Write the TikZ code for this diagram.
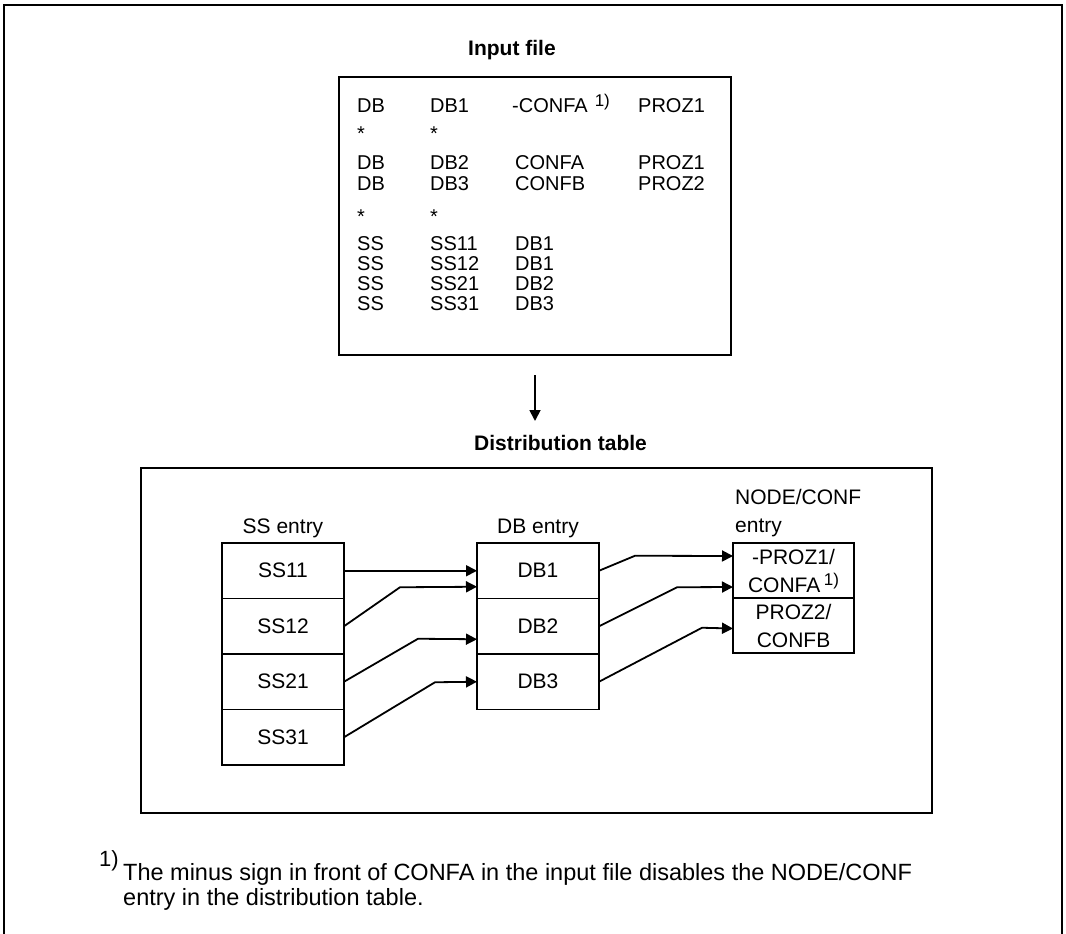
\documentclass[tikz,border=0pt]{standalone}
\usepackage{fontspec}
\setmainfont{Liberation Sans}
\usetikzlibrary{arrows.meta, positioning}
\tikzset{
  frame/.style={draw, line width=1.8pt, inner sep=0pt, outer sep=0pt},
  cell/.style={draw, line width=1.8pt, minimum width=122pt, minimum height=55.5pt,
               inner sep=0pt, outer sep=0pt, align=center, font=\fontsize{21}{28}\selectfont},
  title/.style={anchor=base west, inner sep=0pt, font=\fontsize{21}{24}\selectfont\bfseries},
  txt/.style={anchor=base west, inner sep=0pt, font=\fontsize{20}{20}\selectfont},
  lbl/.style={anchor=base, inner sep=0pt, font=\fontsize{21}{28}\selectfont},
  arr/.style={-{Triangle[length=11pt, width=11pt]}, line width=1.8pt},
}
\newcommand{\inrow}[4]{\makebox[73pt][l]{#1}\makebox[85pt][l]{#2}\makebox[123pt][l]{#3}#4}
\newcommand{\fnmark}{\raisebox{6.5pt}{\fontsize{17}{17}\selectfont 1)}}

\begin{document}
\begin{tikzpicture}[x=1pt, y=-1pt]
  \useasboundingbox (0,0) rectangle (1066,934);
  % page frame, open at the bottom
  \draw[line width=1.8pt] (4,934) -- (4,5) -- (1062,5) -- (1062,934);

  % input file
  \node[title] (intitle) at (468,56) {Input file};
  \node[frame, minimum width=392pt, minimum height=278pt] (inbox) at (535,216) {};
  \node[txt] (r1) at (357,113) {\inrow{DB}{DB1}{\hspace{-3pt}-CONFA\hspace{7pt}\fnmark}{PROZ1}};
  \node[txt] (r2) at (357,140) {\inrow{*}{*}{}{}};
  \node[txt] (r3) at (357,169) {\inrow{DB}{DB2}{CONFA}{PROZ1}};
  \node[txt] (r4) at (357,190) {\inrow{DB}{DB3}{CONFB}{PROZ2}};
  \node[txt] (r5) at (357,223) {\inrow{*}{*}{}{}};
  \node[txt] (r6) at (357,250) {\inrow{SS}{SS11}{DB1}{}};
  \node[txt] (r7) at (357,270) {\inrow{SS}{SS12}{DB1}{}};
  \node[txt] (r8) at (357,290) {\inrow{SS}{SS21}{DB2}{}};
  \node[txt] (r9) at (357,310) {\inrow{SS}{SS31}{DB3}{}};

  \draw[arr] ([yshift=-20pt]inbox.south) -- ++(0,46);

  % distribution table
  \node[title] (dtitle) at (474,450) {Distribution table};
  \node[frame, minimum width=791pt, minimum height=345pt] (dbox) at (536.5,640.5) {};

  \node[cell]                  (ss11) at (283,570.75) {SS11};
  \node[cell, below=0pt of ss11] (ss12) {SS12};
  \node[cell, below=0pt of ss12] (ss21) {SS21};
  \node[cell, below=0pt of ss21] (ss31) {SS31};
  \node[lbl] (sslbl) at ([yshift=10pt]ss11.north) {SS entry};

  \node[cell]                  (db1) at (538,570.75) {DB1};
  \node[cell, below=0pt of db1] (db2) {DB2};
  \node[cell, below=0pt of db2] (db3) {DB3};
  \node[lbl] (dblbl) at ([yshift=10pt]db1.north) {DB entry};

  \node[cell, minimum width=121pt, minimum height=55pt] (nc1) at (793.5,570.5) {-PROZ1/\\CONFA\,\fnmark};
  \node[cell, minimum width=121pt, minimum height=55pt, below=0pt of nc1] (nc2) {PROZ2/\\CONFB};
  \node[lbl, anchor=south west, align=left] (nclbl) at ([xshift=2pt, yshift=5.5pt]nc1.north west) {NODE/CONF\\entry};

  \draw[arr] (ss11.east) -- (db1.west);
  \draw[arr] (ss12.east) -- ++(56,-39) -- ([yshift=-16pt]db1.west);
  \draw[arr] (ss21.east) -- ++(74,-43) -- ([yshift=-13pt]db2.west);
  \draw[arr] (ss31.east) -- ++(91,-55) -- (db3.west);
  \draw[arr] (db1.east) -- ++(36,-15) -- ([yshift=14.5pt]nc1.west);
  \draw[arr] (db2.east) -- ++(78,-39) -- ([yshift=-16.5pt]nc1.west);
  \draw[arr] (db3.east) -- ++(103,-54) -- ([yshift=-3pt]nc2.west);

  % footnote
  \node[txt, font=\fontsize{22}{22}\selectfont] (fnmk) at (99,866) {1)};
  \node[txt, anchor=north west, align=left, font=\fontsize{23.5}{25}\selectfont] (fn) at (123,862.8)
    {The minus sign in front of CONFA in the input file disables the NODE/CONF\\entry in the distribution table.};
\end{tikzpicture}
\end{document}
